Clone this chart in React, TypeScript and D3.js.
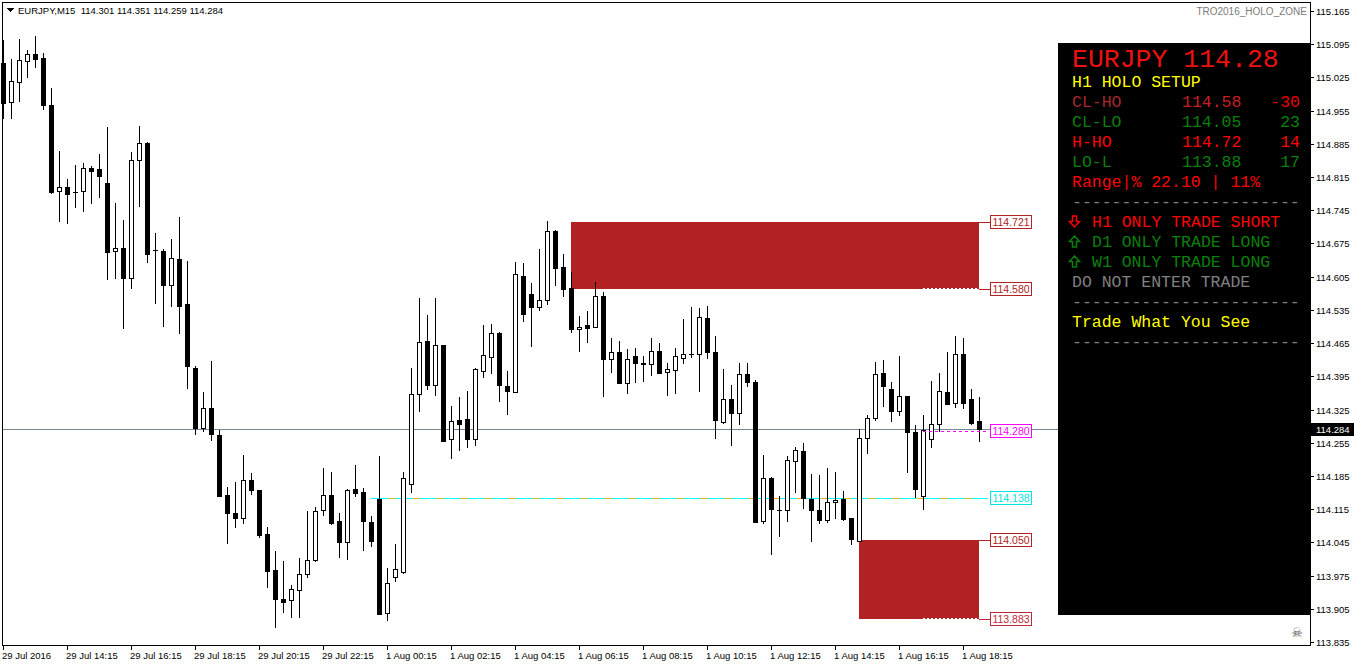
import React from "react";
import * as d3 from "d3";

const openP = [115.055,114.973,115.015,115.060,115.074,115.066,114.967,114.786,114.794,114.783,114.786,114.834,114.832,114.802,114.659,114.665,114.602,114.851,114.887,114.661,114.659,114.587,114.642,114.547,114.412,114.286,114.328,114.271,114.145,114.107,114.096,114.176,114.155,114.063,113.987,113.926,113.923,113.945,113.978,114.008,114.113,114.145,114.090,114.046,114.157,114.151,114.088,114.136,113.896,113.972,113.982,114.168,114.358,114.469,114.377,114.461,114.263,114.303,114.305,114.263,114.406,114.436,114.486,114.375,114.362,114.606,114.568,114.541,114.556,114.701,114.625,114.581,114.495,114.503,114.499,114.564,114.431,114.446,114.381,114.438,114.423,114.421,114.448,114.404,114.408,114.434,114.442,114.442,114.518,114.446,114.299,114.347,114.318,114.400,114.383,114.090,114.181,114.113,114.113,114.216,114.238,114.136,114.113,114.092,114.130,114.136,114.096,114.048,114.265,114.307,114.402,114.368,114.322,114.353,114.278,114.143,114.263,114.294,114.362,114.339,114.442,114.347,114.301];
const highP = [115.104,115.064,115.106,115.083,115.112,115.076,115.003,114.870,114.811,114.840,114.845,114.838,114.864,114.920,114.760,114.724,114.868,114.923,114.889,114.697,114.663,114.684,114.731,114.638,114.417,114.362,114.427,114.282,114.162,114.172,114.229,114.191,114.156,114.077,114.027,114.006,113.955,114.012,114.111,114.119,114.202,114.193,114.107,114.157,114.208,114.159,114.100,114.227,113.991,114.041,114.193,114.412,114.560,114.524,114.560,114.462,114.332,114.351,114.364,114.412,114.503,114.505,114.488,114.406,114.636,114.634,114.592,114.663,114.722,114.703,114.653,114.615,114.522,114.533,114.594,114.573,114.476,114.469,114.452,114.455,114.438,114.476,114.465,114.423,114.455,114.516,114.541,114.539,114.543,114.480,114.410,114.377,114.423,114.423,114.387,114.229,114.182,114.143,114.227,114.246,114.254,114.189,114.187,114.202,114.193,114.153,114.097,114.284,114.313,114.425,114.429,114.383,114.438,114.354,114.292,114.313,114.385,114.402,114.446,114.480,114.476,114.368,114.351];
const lowP = [114.939,114.939,114.975,115.026,115.047,114.958,114.782,114.722,114.718,114.752,114.743,114.760,114.773,114.600,114.602,114.497,114.581,114.754,114.636,114.549,114.501,114.543,114.486,114.370,114.273,114.280,114.261,114.142,114.044,114.077,114.086,114.147,114.056,113.951,113.867,113.898,113.888,113.888,113.972,114.006,114.103,114.084,114.014,114.010,114.143,114.029,114.037,113.893,113.881,113.963,113.980,114.151,114.322,114.368,114.356,114.258,114.223,114.240,114.246,114.250,114.394,114.402,114.343,114.315,114.361,114.512,114.459,114.535,114.547,114.587,114.564,114.488,114.448,114.467,114.498,114.353,114.404,114.380,114.360,114.383,114.385,114.398,114.401,114.356,114.360,114.423,114.436,114.364,114.434,114.265,114.296,114.250,114.294,114.375,114.087,114.086,114.020,114.058,114.090,114.151,114.117,114.048,114.086,114.088,114.096,114.093,114.041,114.047,114.233,114.303,114.332,114.301,114.313,114.193,114.141,114.115,114.246,114.280,114.336,114.330,114.328,114.294,114.259];
const closeP = [114.971,115.017,115.062,115.074,115.064,114.967,114.783,114.794,114.779,114.783,114.834,114.828,114.817,114.657,114.665,114.602,114.851,114.887,114.653,114.661,114.587,114.644,114.543,114.417,114.286,114.328,114.273,114.143,114.107,114.096,114.176,114.155,114.060,113.985,113.926,113.919,113.947,113.978,114.008,114.111,114.145,114.086,114.046,114.155,114.149,114.090,114.048,113.894,113.959,113.989,114.181,114.358,114.467,114.377,114.461,114.259,114.301,114.294,114.263,114.410,114.440,114.486,114.377,114.364,114.611,114.526,114.541,114.556,114.701,114.623,114.579,114.495,114.499,114.497,114.564,114.431,114.446,114.381,114.431,114.423,114.421,114.448,114.402,114.410,114.438,114.442,114.442,114.520,114.446,114.303,114.347,114.318,114.400,114.383,114.088,114.181,114.115,114.113,114.219,114.240,114.138,114.113,114.092,114.130,114.134,114.094,114.052,114.265,114.307,114.400,114.375,114.322,114.353,114.278,114.157,114.282,114.294,114.364,114.337,114.442,114.339,114.296,114.284];

const priceTickLabels = ["115.165","115.095","115.025","114.955","114.885","114.815","114.745","114.675","114.605","114.535","114.465","114.395","114.325","114.255","114.185","114.115","114.045","113.975","113.905","113.835"];
const timeLabels = ["29 Jul 2016","29 Jul 14:15","29 Jul 16:15","29 Jul 18:15","29 Jul 20:15","29 Jul 22:15","1 Aug 00:15","1 Aug 02:15","1 Aug 04:15","1 Aug 06:15","1 Aug 08:15","1 Aug 10:15","1 Aug 12:15","1 Aug 14:15","1 Aug 16:15","1 Aug 18:15"];
const timeLabelBars = [0,8,16,24,32,40,48,56,64,72,80,88,96,104,112,120];

const bidPrice = 114.284;
const upperZone = [114.721, 114.580];
const upperZoneStartBar = 71;
const lowerZone = [114.050, 113.883];
const lowerZoneStartBar = 107;
const cyanLevel = 114.138;
const cyanStartBar = 46;
const magentaLevel = 114.280;
const levelStartBar = 115;
const levelLabels = [
  { v: 114.721, t: "114.721", c: "#b22222" },
  { v: 114.580, t: "114.580", c: "#b22222" },
  { v: 114.280, t: "114.280", c: "#ff00ff" },
  { v: 114.138, t: "114.138", c: "#00e5e5" },
  { v: 114.050, t: "114.050", c: "#b22222" },
  { v: 113.883, t: "113.883", c: "#c0283c" },
];

const headerText = "EURJPY,M15  114.301 114.351 114.259 114.284";

const panelRows = [
  { y: 87, parts: [{ x: 1072, t: "H1 HOLO SETUP", c: "#ffff00" }] },
  { y: 107, parts: [{ x: 1072, t: "CL-HO", c: "#a52a2a" }, { x: 1182, t: "114.58", c: "#c82020" }, { x: 1300, t: "-30", c: "#e80000", a: "end" }] },
  { y: 127, parts: [{ x: 1072, t: "CL-LO", c: "#0a800a" }, { x: 1182, t: "114.05", c: "#0a800a" }, { x: 1300, t: "23", c: "#0a800a", a: "end" }] },
  { y: 147, parts: [{ x: 1072, t: "H-HO", c: "#ff0000" }, { x: 1182, t: "114.72", c: "#ff0000" }, { x: 1300, t: "14", c: "#ff0000", a: "end" }] },
  { y: 167, parts: [{ x: 1072, t: "LO-L", c: "#0a800a" }, { x: 1182, t: "113.88", c: "#0a800a" }, { x: 1300, t: "17", c: "#0a800a", a: "end" }] },
  { y: 187, parts: [{ x: 1072, t: "Range|% 22.10 | 11%", c: "#ff0000" }] },
  { y: 207, parts: [{ x: 1072, t: "-----------------------", c: "#808080" }] },
  { y: 227, arrow: "down", ac: "#ff0000", parts: [{ x: 1092, t: "H1 ONLY TRADE SHORT", c: "#ff0000" }] },
  { y: 247, arrow: "up", ac: "#0a800a", parts: [{ x: 1092, t: "D1 ONLY TRADE LONG", c: "#0a800a" }] },
  { y: 267, arrow: "up", ac: "#0a800a", parts: [{ x: 1092, t: "W1 ONLY TRADE LONG", c: "#0a800a" }] },
  { y: 287, parts: [{ x: 1072, t: "DO NOT ENTER TRADE", c: "#808080" }] },
  { y: 307, parts: [{ x: 1072, t: "-----------------------", c: "#808080" }] },
  { y: 327, parts: [{ x: 1072, t: "Trade What You See", c: "#ffff00" }] },
  { y: 347, parts: [{ x: 1072, t: "-----------------------", c: "#808080" }] },
];

function arrowPath(dir: string, baseY: number) {
  // outlined arrow, about 11px wide and 11px tall
  const l = 1069.5, r = 1079.5, sl = 1072.5, sr = 1076.5, mid = 1074.5;
  if (dir === "down") {
    const t = baseY - 11, hb = baseY - 5.5, tip = baseY;
    return `M${sl},${t} L${sr},${t} L${sr},${hb} L${r},${hb} L${mid},${tip} L${l},${hb} L${sl},${hb} Z`;
  }
  const t = baseY - 11, hb = baseY - 5.5, b = baseY;
  return `M${mid},${t} L${r},${hb} L${sr},${hb} L${sr},${b} L${sl},${b} L${sl},${hb} L${l},${hb} Z`;
}

export default function App() {
  const W = 1354, H = 666;
  const left = 2, top = 2, right = 1310, bottom = 645;
  const y = d3.scaleLinear().domain([113.835, 115.165]).range([642, 11]);
  const x = d3.scaleLinear().domain([0, 122]).range([3, 979]);
  const yr = (p: number) => Math.round(y(p));
  const axisFont = "'Liberation Sans', Arial, sans-serif";
  const monoFont = "'Liberation Mono', 'Courier New', monospace";
  const priceTicks = priceTickLabels.map((s) => +s);
  const zoneEnd = x(122);

  const candles = openP.map((o, i) => {
    const cx = Math.round(x(i));
    const yo = yr(o), yc = yr(closeP[i]), yh = yr(highP[i]), yl = yr(lowP[i]);
    const wick = <line key={"w" + i} x1={cx + 0.5} x2={cx + 0.5} y1={yh} y2={yl + 1} stroke="#000" strokeWidth={1} />;
    let body;
    if (yo === yc) {
      body = <line key={"b" + i} x1={cx - 2} x2={cx + 3} y1={yo + 0.5} y2={yo + 0.5} stroke="#000" strokeWidth={1} />;
    } else if (closeP[i] < o) {
      body = <rect key={"b" + i} x={cx - 2} y={yo} width={5} height={yc - yo + 1} fill="#000" />;
    } else {
      body = <rect key={"b" + i} x={cx - 1.5} y={yc + 0.5} width={4} height={Math.max(yo - yc, 1)} fill="#fff" stroke="#000" strokeWidth={1} />;
    }
    return <g key={i}>{wick}{body}</g>;
  });

  const bidY = yr(bidPrice) + 0.5;

  return (
    <div style={{ position: "absolute", left: 0, top: 0, width: W, height: H, background: "#fff" }}>
      <svg width={W} height={H} style={{ display: "block" }} shapeRendering="crispEdges">
        <rect x={0} y={0} width={W} height={H} fill="#fff" />
        {/* zones */}
        <rect x={x(upperZoneStartBar)} y={yr(upperZone[0])} width={zoneEnd - x(upperZoneStartBar)} height={yr(upperZone[1]) - yr(upperZone[0])} fill="#b22222" />
        <rect x={x(lowerZoneStartBar)} y={yr(lowerZone[0])} width={zoneEnd - x(lowerZoneStartBar)} height={yr(lowerZone[1]) - yr(lowerZone[0])} fill="#b22222" />
        {/* bid line */}
        <line x1={left} x2={right} y1={bidY} y2={bidY} stroke="#778899" strokeWidth={1} />
        {/* cyan/orange level */}
        <line x1={x(cyanStartBar)} x2={988} y1={yr(cyanLevel) + 0.5} y2={yr(cyanLevel) + 0.5} stroke="#ffa500" strokeWidth={1} />
        <line x1={x(cyanStartBar)} x2={988} y1={yr(cyanLevel) + 0.5} y2={yr(cyanLevel) + 0.5} stroke="#00ffff" strokeWidth={1} strokeDasharray="18,6" />
        {candles}
        {/* level dotted lines */}
        <line x1={x(levelStartBar)} x2={988} y1={yr(magentaLevel) + 0.5} y2={yr(magentaLevel) + 0.5} stroke="#ff00ff" strokeWidth={1} strokeDasharray="3,3" />
        <line x1={x(levelStartBar)} x2={zoneEnd} y1={yr(upperZone[1]) - 0.5} y2={yr(upperZone[1]) - 0.5} stroke="#fff" strokeWidth={1} strokeDasharray="2,2" />
        <line x1={x(levelStartBar)} x2={zoneEnd} y1={yr(lowerZone[1]) - 0.5} y2={yr(lowerZone[1]) - 0.5} stroke="#fff" strokeWidth={1} strokeDasharray="2,2" />
        {levelLabels.map((l, i) => {
          const cy = yr(l.v);
          return (
            <g key={"ll" + i}>
              {l.c !== "#ff00ff" && l.c !== "#00e5e5" ? (
                <line x1={zoneEnd} x2={990} y1={cy + 0.5} y2={cy + 0.5} stroke={l.c} strokeWidth={1} />
              ) : null}
              <rect x={990.5} y={cy - 6.5} width={41} height={13} fill="#fff" stroke={l.c} strokeWidth={1} />
              <text x={1011} y={cy + 4} textAnchor="middle" fontFamily={axisFont} fontSize={10.5} fill={l.c} shapeRendering="auto">{l.t}</text>
            </g>
          );
        })}
        {/* info panel */}
        <rect x={1058} y={43} width={252} height={572} fill="#000" />
        <text x={1072} y={67} fontFamily={monoFont} fontSize={26.5} fill="#ee1111">EURJPY 114.28</text>
        {panelRows.map((r: any, i) => (
          <g key={"pr" + i}>
            {r.arrow ? (
              <path d={arrowPath(r.arrow, r.y)} fill="none" stroke={r.ac} strokeWidth={1.5} shapeRendering="auto" />
            ) : null}
            {r.parts.map((p: any, j: number) => (
              <text key={j} x={p.x} y={r.y} fontFamily={monoFont} fontSize={16.5} fill={p.c} textAnchor={p.a || "start"} style={{ whiteSpace: "pre" }}>{p.t}</text>
            ))}
          </g>
        ))}
        {/* frame */}
        <rect x={left + 0.5} y={top + 0.5} width={right - left} height={bottom - top} fill="none" stroke="#000" strokeWidth={1} />
        {/* price axis */}
        {priceTicks.map((p, i) => (
          <g key={"pt" + i}>
            <line x1={right} x2={right + 4} y1={yr(p) + 0.5} y2={yr(p) + 0.5} stroke="#000" />
            <text x={1316} y={yr(p) + 4} fontFamily={axisFont} fontSize={9.5} fill="#000">{priceTickLabels[i]}</text>
          </g>
        ))}
        <rect x={1311} y={bidY - 6.5} width={43} height={13} fill="#000" />
        <text x={1316} y={bidY + 3.5} fontFamily={axisFont} fontSize={9.5} fill="#fff">{bidPrice.toFixed(3)}</text>
        {/* time axis */}
        {timeLabelBars.map((b, i) => (
          <g key={"tt" + i}>
            <line x1={x(b) + 0.5} x2={x(b) + 0.5} y1={bottom} y2={bottom + 5} stroke="#000" />
            <text x={x(b) - 1} y={659} fontFamily={axisFont} fontSize={9.5} fill="#000">{timeLabels[i]}</text>
          </g>
        ))}
        {/* header */}
        <path d="M7,8 L14,8 L10.5,12 Z" fill="#000" />
        <text x={18} y={14} fontFamily={axisFont} fontSize={9.5} fill="#000" style={{ whiteSpace: "pre" }}>{headerText}</text>
        <text x={1307} y={15} textAnchor="end" fontFamily={axisFont} fontSize={10} fill="#7a7a7a">TRO2016_HOLO_ZONE</text>
        <text x={1297} y={637} textAnchor="middle" fontFamily="'DejaVu Sans', sans-serif" fontSize={13} fill="#555">☠</text>
      </svg>
    </div>
  );
}
